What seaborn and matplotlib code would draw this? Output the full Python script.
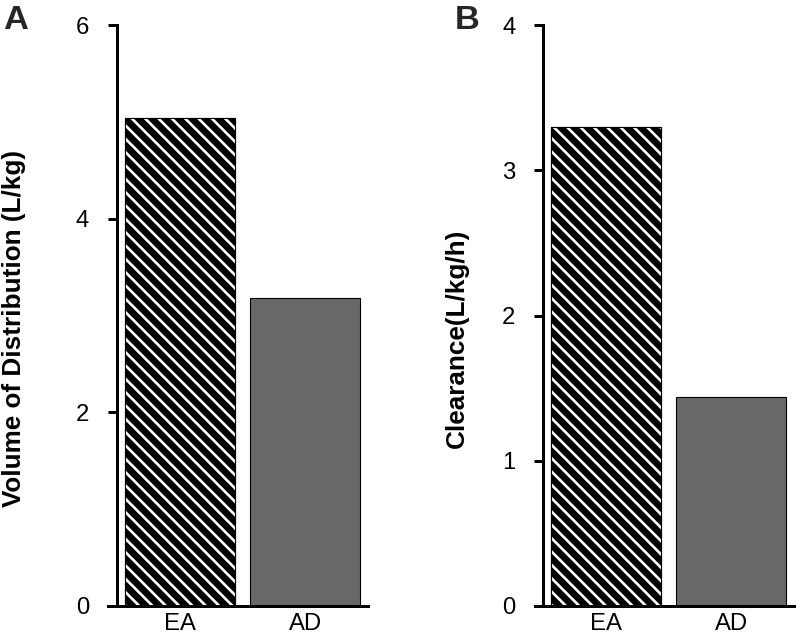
import matplotlib
matplotlib.use("Agg")
import matplotlib.pyplot as plt
import matplotlib.patches as mpatches
import seaborn as sns

# data
groups = ["EA", "AD"]
vd_values = [5.04, 3.18]        # Volume of Distribution (L/kg)
cl_values = [3.30, 1.44]        # Clearance (L/kg/h)
bar_colors = ["#000000", "#686868"]

sns.set_theme(style="white")
plt.rcParams["font.family"] = ["Liberation Sans", "DejaVu Sans"]
plt.rcParams["hatch.linewidth"] = 2.4

DPI = 80
fig = plt.figure(figsize=(797 / DPI, 640 / DPI), dpi=DPI)

# axes boxes in figure fractions (pixels measured on the reference)
ax_a = fig.add_axes([108 / 797, 34 / 640, 260 / 797, 581 / 640])
ax_b = fig.add_axes([535 / 797, 34 / 640, 259 / 797, 581 / 640])


def draw_panel(ax, values, ylabel, ymax, ystep, xleft, label_x, label_y):
    sns.barplot(x=groups, y=values, hue=groups, palette=bar_colors,
                width=0.875, edgecolor="black", linewidth=1.0,
                legend=False, ax=ax)
    # hatch the EA bar: white diagonal stripes over black
    p = ax.patches[0]
    ax.add_patch(mpatches.Rectangle((p.get_x(), p.get_y()), p.get_width(), p.get_height(),
                                    facecolor="none", edgecolor="white", linewidth=0,
                                    hatch="\\\\", zorder=p.get_zorder() + 0.1))
    ax.add_patch(mpatches.Rectangle((p.get_x(), p.get_y()), p.get_width(), p.get_height(),
                                    facecolor="none", edgecolor="black", linewidth=1.0,
                                    zorder=p.get_zorder() + 0.2))

    ax.set_xlim(xleft, 1.5)
    ax.set_ylim(0, ymax)
    ax.set_yticks(range(0, ymax + 1, ystep))
    ax.spines["left"].set_position(("data", -0.5))
    ax.spines["top"].set_visible(False)
    ax.spines["right"].set_visible(False)
    for s in ("left", "bottom"):
        ax.spines[s].set_linewidth(2.7)
        ax.spines[s].set_color("black")
    ax.tick_params(axis="y", left=True, length=8, width=2.7, pad=17,
                   labelsize=21.5, colors="black", direction="out")
    ax.tick_params(axis="x", bottom=False, length=0, pad=6,
                   labelsize=21.5, colors="black")
    ax.set_xlabel("")
    ax.set_ylabel(ylabel, fontsize=23.5, fontweight="bold", color="black")
    ax.yaxis.set_label_coords(label_x, label_y)
    ax.set_facecolor("none")


draw_panel(ax_a, vd_values, "Volume of Distribution (L/kg)", 6, 2, -0.57, -0.315, 0.478)
draw_panel(ax_b, cl_values, "Clearance(L/kg/h)", 4, 1, -0.565, -0.255, 0.461)

fig.text(3 / 797, 1 - 5 / 640, "A", fontsize=31, fontweight="bold", va="top", ha="left")
fig.text(455 / 797, 1 - 5 / 640, "B", fontsize=31, fontweight="bold", va="top", ha="left")

fig.savefig("out.png", dpi=DPI, facecolor="white")
